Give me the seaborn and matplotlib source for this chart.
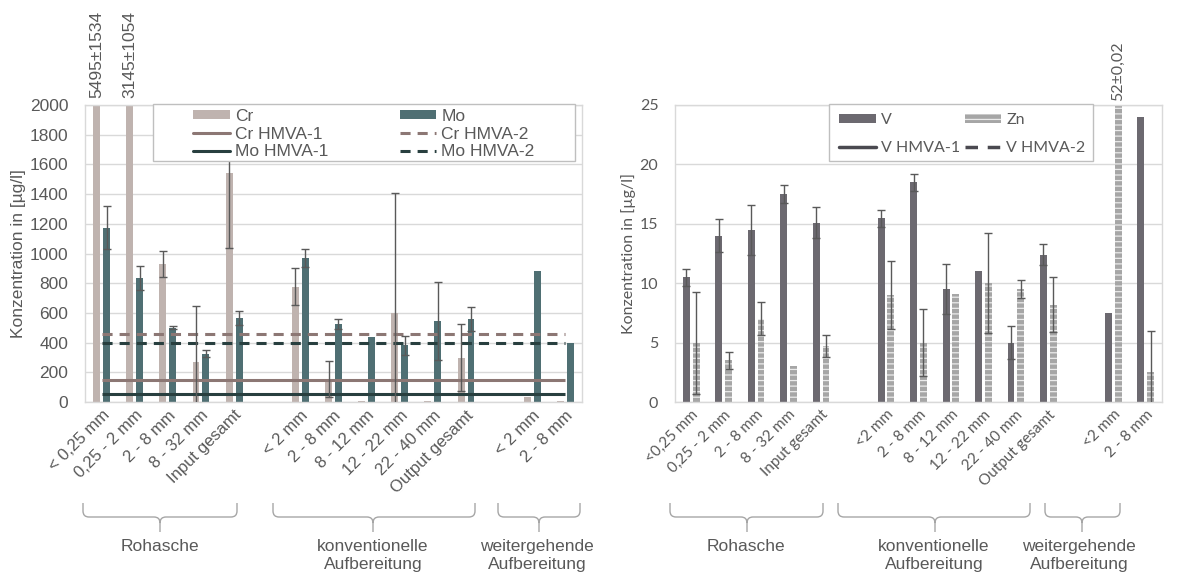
import matplotlib
matplotlib.use("Agg")
import matplotlib.pyplot as plt
import seaborn as sns
import pandas as pd
from matplotlib.patches import Patch, Rectangle, PathPatch
from matplotlib.lines import Line2D
from matplotlib.path import Path
from matplotlib.transforms import Affine2D

sns.set_theme(style="white")
plt.rcParams["hatch.linewidth"] = 0.9

# ---- categories -------------------------------------------------------------
group_names = ["Rohasche", "konventionelle\nAufbereitung", "weitergehende\nAufbereitung"]
labels_left = ["< 0,25 mm", "0,25 - 2 mm", "2 - 8 mm", "8 - 32 mm", "Input gesamt",
               "< 2 mm", "2 - 8 mm", "8 - 12 mm", "12 - 22 mm", "22 - 40 mm", "Output gesamt",
               "< 2 mm", "2 - 8 mm"]
labels_right = ["<0,25 mm", "0,25 - 2 mm", "2 - 8 mm", "8 - 32 mm", "Input gesamt",
                "<2 mm", "2 - 8 mm", "8 - 12 mm", "12 - 22 mm", "22 - 40 mm", "Output gesamt",
                "<2 mm", "2 - 8 mm"]
group_sizes = [5, 6, 2]

# ---- Cr / Mo  [µg/l] --------------------------------------------------------
cr_mean = [5495, 3145, 930, 270, 1540, 775, 155, 5, 600, 10, 298, 36, 5]
cr_err = [1534, 1054, 88, 375, 500, 125, 120, 0, 805, 0, 225, 0, 0]
mo_mean = [1175, 835, 500, 325, 565, 970, 525, 438, 382, 545, 557, 884, 400]
mo_err = [145, 80, 10, 25, 45, 60, 35, 0, 65, 265, 80, 0, 0]
cr_hmva = [150, 460]   # HMVA-1, HMVA-2
mo_hmva = [55, 400]

# ---- V / Zn  [µg/l] ---------------------------------------------------------
v_mean = [10.5, 14.0, 14.5, 17.5, 15.1, 15.45, 18.5, 9.5, 11.0, 5.0, 12.4, 7.5, 24.0]
v_err = [0.7, 1.4, 2.1, 0.75, 1.3, 0.75, 0.7, 2.1, 0, 1.4, 0.9, 0, 0]
zn_mean = [5.0, 3.5, 7.0, 3.0, 4.7, 9.0, 5.0, 9.05, 10.0, 9.5, 8.2, 52, 2.5]
zn_err = [4.3, 0.7, 1.4, 0, 0.9, 2.85, 2.8, 0, 4.2, 0.75, 2.3, 0.02, 3.5]

TXT = "#595959"
GRID = "#D9D9D9"
ERR = "#595959"
BRACE = "#A6A6A6"
C_CR, C_MO = "#BFB3AF", "#4F6F73"
C_CR_L, C_MO_L = "#8C7774", "#283F3F"
C_V, C_ZN, C_V_L = "#6C6970", "#A6A6A6", "#4A4950"
ZN_HATCH = "#EBEBEB"

W, H = 1190, 581

# slot positions: one empty slot between the three groups
slots = []
s = 0
for n in group_sizes:
    slots.extend(range(s, s + n))
    s += n + 1
n_slots = s - 1
order = [f"s{k}" for k in range(n_slots)]


def panel(ax, names, means, errs, colors, ymax, ystep, ticklabels, font, fs, lab_fs,
          overflow_pad):
    rows = []
    for name, m in zip(names, means):
        for slot, v in zip(slots, m):
            rows.append({"slot": f"s{slot}", "element": name, "value": v})
    df = pd.DataFrame(rows)
    sns.barplot(data=df, x="slot", y="value", hue="element", order=order,
                hue_order=names, palette=dict(zip(names, colors)), saturation=1,
                width=0.6, gap=0.3, errorbar=None, linewidth=0, legend=False, ax=ax)
    offsets = [-0.15, 0.15]
    for off, m, e in zip(offsets, means, errs):
        xs = [sl + off for sl, ee in zip(slots, e) if ee > 0]
        ys = [mm for mm, ee in zip(m, e) if ee > 0]
        es = [ee for ee in e if ee > 0]
        ax.errorbar(xs, ys, yerr=es, fmt="none", ecolor=ERR, elinewidth=1.0,
                    capsize=3, capthick=1.0, zorder=4)
        for sl, mm, ee in zip(slots, m, e):
            if mm > ymax:
                txt = f"{mm:g}±{ee:g}".replace(".", ",")
                ax.annotate(txt, xy=(sl + off, ymax), xytext=(0, overflow_pad),
                            textcoords="offset points", rotation=90, ha="center",
                            va="bottom", color=TXT, fontsize=lab_fs, family=font,
                            annotation_clip=False)
    ax.set_xlim(-0.5, n_slots - 0.5)
    ax.set_ylim(0, ymax)
    ax.set_yticks(range(0, int(ymax) + 1, ystep))
    ax.set_xticks(slots)
    ax.set_xticklabels(ticklabels, rotation=45, ha="right", rotation_mode="anchor",
                       family=font, fontsize=fs, color=TXT)
    for t in ax.get_yticklabels():
        t.set_family(font)
        t.set_fontsize(lab_fs)
        t.set_color(TXT)
    ax.tick_params(axis="both", length=0)
    ax.tick_params(axis="y", pad=12)
    ax.tick_params(axis="x", pad=4)
    ax.set_xlabel("")
    ax.yaxis.grid(True, color=GRID, linewidth=1)
    ax.set_axisbelow(True)
    for sp in ax.spines.values():
        sp.set_visible(True)
        sp.set_color(GRID)
        sp.set_linewidth(1)


def px_ax(fig, l, t, r, b):
    return fig.add_axes([l / W, 1 - b / H, (r - l) / W, (b - t) / H])


def brace(fig, x0, x1, xm, top=503, mid=517, tip=532, r=6):
    verts = [(x0, top), (x0, mid - r), (x0, mid), (x0 + r, mid),
             (xm - r, mid), (xm, mid), (xm, mid + r), (xm, tip),
             (xm, mid + r), (xm, mid), (xm + r, mid),
             (x1 - r, mid), (x1, mid), (x1, mid - r), (x1, top)]
    codes = [Path.MOVETO, Path.LINETO, Path.CURVE3, Path.CURVE3,
             Path.LINETO, Path.CURVE3, Path.CURVE3, Path.LINETO,
             Path.MOVETO, Path.CURVE3, Path.CURVE3,
             Path.LINETO, Path.CURVE3, Path.CURVE3, Path.LINETO]
    tr = Affine2D().scale(1 / W, -1 / H).translate(0, 1) + fig.transFigure
    fig.add_artist(PathPatch(Path(verts, codes), facecolor="none", edgecolor=BRACE,
                             linewidth=1, transform=tr))


fig = plt.figure(figsize=(W / 100, H / 100), dpi=100)
fig.patch.set_facecolor("white")

dash = (0, (3.3, 2.3))

# ---- left panel: Cr / Mo ----------------------------------------------------
axL = px_ax(fig, 85, 105, 582, 402)
fontL = "Liberation Sans"
panel(axL, ["Cr", "Mo"], [cr_mean, mo_mean], [cr_err, mo_err], [C_CR, C_MO],
      2000, 200, labels_left, fontL, 12, 12.5, 5)
x_line = [slots[0], slots[-1]]
axL.plot(x_line, [cr_hmva[0]] * 2, color=C_CR_L, lw=2.2, zorder=3, solid_capstyle="butt")
axL.plot(x_line, [mo_hmva[0]] * 2, color=C_MO_L, lw=2.2, zorder=3, solid_capstyle="butt")
axL.plot(x_line, [cr_hmva[1]] * 2, color=C_CR_L, lw=2.2, ls=dash, zorder=3)
axL.plot(x_line, [mo_hmva[1]] * 2, color=C_MO_L, lw=2.2, ls=dash, zorder=3)
axL.set_ylabel("Konzentration in [µg/l]", family=fontL, fontsize=12.5, color=TXT)
axL.yaxis.set_label_coords(-0.118, 0.5)

axL.add_patch(Rectangle((0.137, 0.811), 0.849, 0.191, transform=axL.transAxes,
                        facecolor="white", edgecolor="#BFBFBF", lw=1, zorder=5,
                        clip_on=False))
hL = [Patch(facecolor=C_CR, edgecolor="none", label="Cr"),
      Line2D([], [], color=C_CR_L, lw=2.2, label="Cr HMVA-1"),
      Line2D([], [], color=C_MO_L, lw=2.2, label="Mo HMVA-1"),
      Patch(facecolor=C_MO, edgecolor="none", label="Mo"),
      Line2D([], [], color=C_CR_L, lw=2.2, ls=dash, label="Cr HMVA-2"),
      Line2D([], [], color=C_MO_L, lw=2.2, ls=dash, label="Mo HMVA-2")]
legL = axL.legend(handles=hL, ncol=2, loc="upper left", bbox_to_anchor=(0.218, 0.988),
                  frameon=False, borderpad=0, borderaxespad=0, handlelength=2.1,
                  handleheight=0.45, handletextpad=0.3, labelspacing=0.17,
                  columnspacing=4.1, prop={"family": fontL, "size": 12.5})
legL.set_zorder(6)
for t in legL.get_texts():
    t.set_color(TXT)

# ---- right panel: V / Zn ----------------------------------------------------
axR = px_ax(fig, 675, 105, 1162, 402)
fontR = "Lato"
panel(axR, ["V", "Zn"], [v_mean, zn_mean], [v_err, zn_err], [C_V, C_ZN],
      25, 5, labels_right, fontR, 11, 11.5, 3)
for bar in axR.patches:
    fc = bar.get_facecolor()
    if abs(fc[0] - int(C_ZN[1:3], 16) / 255) < 0.01:
        bar.set_hatch("---")
        bar.set_edgecolor(ZN_HATCH)
        bar.set_linewidth(0)
axR.set_ylabel("Konzentration in [µg/l]", family=fontR, fontsize=11.5, color=TXT)
axR.yaxis.set_label_coords(-0.08, 0.5)

axR.add_patch(Rectangle((0.316, 0.811), 0.542, 0.191, transform=axR.transAxes,
                        facecolor="white", edgecolor="#BFBFBF", lw=1, zorder=5,
                        clip_on=False))
hR = [Patch(facecolor=C_V, edgecolor="none", label="V"),
      Line2D([], [], color=C_V_L, lw=2.5, label="V HMVA-1"),
      Patch(facecolor=C_ZN, edgecolor=ZN_HATCH, hatch="---", lw=0, label="Zn"),
      Line2D([], [], color=C_V_L, lw=2.5, ls=(0, (3.6, 2.8)), label="V HMVA-2")]
legR = axR.legend(handles=hR, ncol=2, loc="upper left", bbox_to_anchor=(0.337, 0.972),
                  frameon=False, borderpad=0, borderaxespad=0, handlelength=2.3,
                  handleheight=0.5, handletextpad=0.3, labelspacing=0.85,
                  columnspacing=0.3, prop={"family": fontR, "size": 11.5})
legR.set_zorder(6)
for t in legR.get_texts():
    t.set_color(TXT)

# ---- group braces and captions ---------------------------------------------
brace_left = [(83, 237, 160), (273, 475, 373), (498, 580, 539)]
brace_right = [(670, 823, 747), (838, 1030, 935), (1045, 1120, 1082)]
caption_left = [160, 373, 537]
caption_right = [746, 934, 1079]
for spans, caps in ((brace_left, caption_left), (brace_right, caption_right)):
    for (x0, x1, xm), xc, name in zip(spans, caps, group_names):
        brace(fig, x0, x1, xm)
        fig.text(xc / W, 1 - 539 / H, name, ha="center", va="top", family="Liberation Sans",
                 fontsize=12.5, color=TXT, linespacing=1.25)

fig.savefig("out.png", dpi=100, facecolor="white")
